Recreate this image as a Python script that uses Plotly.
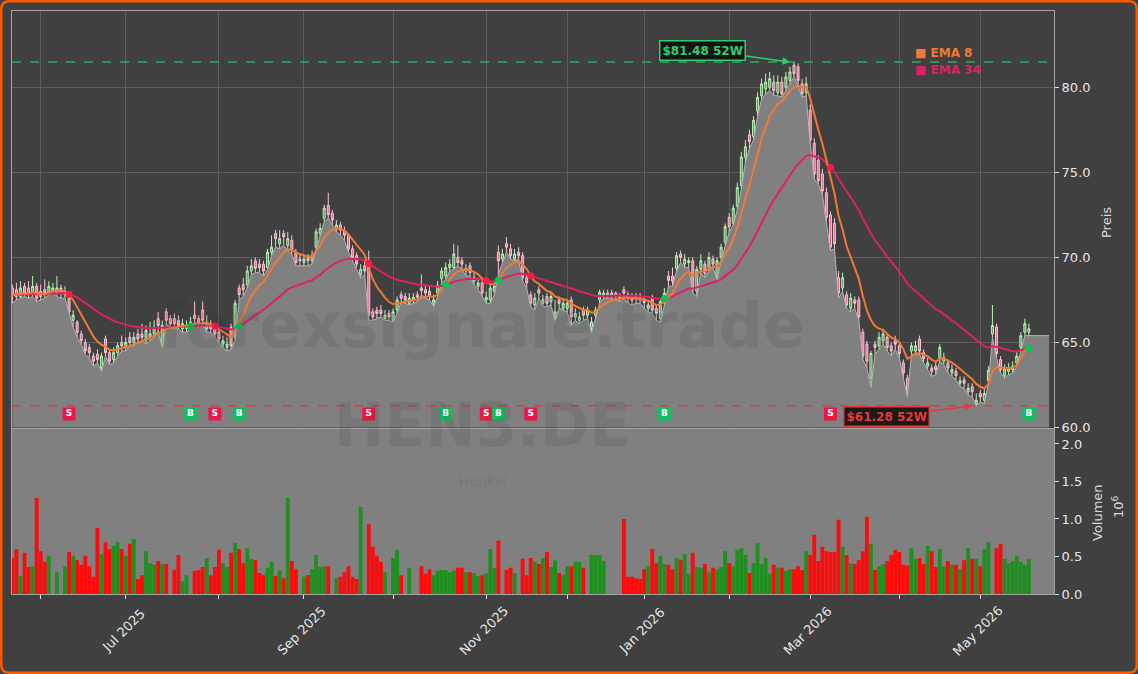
import pandas as pd
import plotly.graph_objects as go

# ---------------- data ----------------
holidays = ["2025-12-24", "2025-12-25", "2025-12-26", "2025-12-31",
            "2026-01-01", "2026-04-03", "2026-04-06", "2026-05-01"]
dates = [d for d in pd.bdate_range("2025-05-22", "2026-05-20")
         if d.strftime("%Y-%m-%d") not in holidays]

opens = [68.2, 68.1, 67.7, 68.3, 68.2, 67.8, 68.3, 68.0, 68.1, 67.9,
         68.0, 67.9, 68.2, 67.8, 67.6, 66.3, 66.2, 65.5, 65.0, 64.7,
         64.2, 64.3, 63.5, 65.2, 64.4, 64.0, 64.4, 65.0, 64.7, 65.3,
         65.0, 65.5, 65.5, 65.1, 65.3, 65.5, 66.4, 64.9, 66.8, 66.4,
         66.4, 66.3, 65.8, 65.8, 65.9, 66.6, 66.4, 66.9, 65.8, 66.0,
         65.9, 65.6, 64.9, 64.7, 65.9, 65.3, 68.2, 68.4, 68.4, 69.2,
         69.8, 69.6, 69.6, 69.4, 70.3, 71.4, 70.8, 71.4, 70.7, 71.0,
         70.3, 69.9, 69.7, 70.0, 69.8, 70.6, 71.4, 72.3, 73.05, 72.6,
         71.7, 71.9, 71.6, 71.3, 70.5, 70.1, 69.0, 69.5, 69.8, 66.8,
         66.9, 66.9, 66.4, 66.7, 66.3, 66.9, 67.8, 67.7, 67.3, 67.5,
         67.8, 68.2, 68.1, 68.0, 67.3, 67.9, 68.75, 68.9, 69.4, 69.4,
         70.0, 69.8, 69.2, 69.5, 68.6, 68.3, 68.5, 67.5, 67.5, 68.0,
         70.3, 69.9, 70.8, 70.5, 69.9, 70.3, 70.1, 68.8, 67.8, 67.2,
         68.1, 67.3, 67.7, 67.4, 66.5, 67.5, 67.0, 67.0, 67.5, 66.5,
         66.3, 66.9, 66.6, 65.9, 66.6, 67.5, 67.8, 67.9, 67.8, 67.9,
         67.6, 68.1, 67.8, 67.7, 67.7, 67.7, 67.5, 67.0, 67.65, 67.0,
         66.4, 67.4, 68.9, 68.9, 69.35, 70.2, 69.6, 69.7, 69.8, 68.0,
         69.3, 69.6, 69.4, 69.9, 68.9, 70.0, 70.9, 72.35, 72.0, 73.0,
         74.2, 75.9, 77.2, 77.1, 78.6, 79.5, 79.9, 80.0, 80.3, 79.7,
         80.3, 80.0, 80.4, 81.3, 81.2, 80.2, 79.7, 78.65, 76.7, 75.7,
         74.9, 73.8, 72.5, 72.0, 68.8, 68.2, 67.8, 67.0, 67.5, 67.5,
         65.6, 64.9, 62.9, 64.9, 64.8, 65.1, 65.3, 64.8, 65.1, 64.8,
         63.8, 62.9, 64.5, 64.5, 65.2, 64.4, 63.6, 63.5, 63.6, 64.05,
         63.9, 63.8, 63.2, 63.3, 62.6, 62.8, 62.1, 62.4, 61.4, 62.0,
         61.6, 62.75, 65.5, 65.9, 64.0, 63.05, 63.3, 63.4, 63.8, 64.7,
         65.6, 65.6]
highs = [68.4, 68.5, 68.6, 68.5, 68.6, 68.9, 68.5, 68.4, 68.7, 68.6,
         68.5, 68.9, 68.4, 68.3, 67.9, 66.9, 66.3, 65.7, 65.2, 64.9,
         64.4, 64.6, 64.4, 65.4, 64.6, 64.7, 65.0, 65.4, 65.3, 65.6,
         65.6, 65.8, 66.1, 66.0, 66.2, 66.3, 66.8, 66.3, 67.0, 66.6,
         66.7, 66.6, 66.4, 66.3, 66.5, 67.4, 66.6, 67.4, 66.6, 66.3,
         66.1, 65.8, 65.4, 65.3, 66.1, 67.5, 68.4, 68.8, 69.5, 69.9,
         70.0, 69.9, 69.8, 70.5, 71.3, 71.6, 71.6, 71.6, 71.5, 71.3,
         70.5, 70.2, 70.2, 70.2, 70.4, 71.7, 72.0, 73.1, 73.8, 72.8,
         72.2, 72.1, 71.8, 71.4, 70.7, 70.3, 69.6, 69.8, 70.4, 67.0,
         67.1, 67.2, 66.9, 66.9, 67.0, 67.7, 68.0, 67.9, 67.9, 67.9,
         68.0, 69.0, 68.4, 68.3, 67.8, 68.6, 69.4, 69.7, 69.9, 70.8,
         70.7, 70.0, 69.6, 69.7, 69.1, 68.8, 68.7, 68.0, 68.4, 68.6,
         70.7, 70.5, 71.2, 70.8, 70.5, 70.6, 70.3, 69.0, 68.0, 67.9,
         68.3, 67.8, 67.9, 67.9, 67.5, 67.7, 67.6, 67.5, 67.7, 67.0,
         66.8, 67.1, 67.1, 66.5, 67.1, 68.1, 68.1, 68.1, 68.1, 68.0,
         67.9, 68.3, 68.0, 67.9, 67.9, 67.9, 67.7, 67.5, 67.8, 67.2,
         67.5, 68.2, 69.2, 69.4, 70.3, 70.4, 70.2, 70.0, 70.0, 69.5,
         70.2, 69.8, 70.3, 70.1, 70.0, 70.8, 72.0, 72.6, 73.1, 74.4,
         76.2, 76.9, 77.5, 78.3, 79.7, 80.5, 80.8, 80.9, 80.7, 80.7,
         80.6, 80.9, 81.2, 81.48, 81.4, 80.5, 80.6, 79.0, 77.0, 76.0,
         75.2, 74.1, 72.7, 72.3, 69.2, 69.1, 68.0, 67.9, 67.7, 67.7,
         65.8, 65.1, 64.5, 65.1, 65.6, 65.8, 65.5, 65.0, 65.4, 65.0,
         64.0, 63.1, 65.0, 65.1, 65.4, 64.6, 64.1, 63.7, 63.8, 64.9,
         64.4, 64.0, 63.7, 63.5, 63.0, 63.0, 62.6, 62.6, 62.0, 62.2,
         62.3, 63.6, 67.2, 66.1, 64.2, 63.7, 63.8, 63.9, 64.5, 65.6,
         66.4, 66.1]
lows = [67.3, 67.5, 67.6, 67.7, 67.6, 67.7, 67.4, 67.5, 67.6, 67.8,
        67.9, 67.7, 67.6, 67.6, 66.7, 65.9, 65.3, 64.9, 64.3, 64.1,
        63.6, 63.8, 63.3, 64.2, 63.7, 63.8, 64.2, 64.5, 64.5, 64.8,
        64.8, 65.0, 65.1, 64.9, 65.1, 65.3, 65.7, 64.7, 66.1, 65.9,
        65.8, 65.8, 65.6, 65.6, 65.8, 66.1, 65.9, 66.1, 65.6, 65.6,
        65.3, 65.0, 64.7, 64.5, 64.6, 65.1, 67.5, 67.7, 68.2, 69.0,
        69.1, 69.1, 68.9, 69.3, 70.1, 70.6, 70.5, 70.7, 70.4, 70.2,
        69.5, 69.5, 69.5, 69.5, 69.6, 70.4, 71.2, 72.1, 72.3, 71.9,
        71.5, 71.3, 71.0, 70.3, 69.8, 69.4, 68.8, 69.0, 66.3, 66.3,
        66.4, 66.5, 66.3, 66.3, 66.2, 66.7, 67.4, 67.3, 67.2, 67.3,
        67.4, 67.8, 67.6, 67.5, 67.1, 67.7, 68.5, 68.7, 69.2, 69.3,
        69.5, 69.3, 68.9, 68.9, 68.4, 68.1, 67.7, 67.3, 67.3, 67.8,
        69.0, 69.7, 70.3, 69.9, 69.8, 69.9, 68.6, 68.2, 67.1, 66.9,
        67.6, 67.1, 67.1, 67.2, 66.3, 67.0, 66.9, 66.8, 66.0, 66.3,
        66.1, 66.3, 66.4, 65.6, 66.4, 67.3, 67.6, 67.6, 67.6, 67.5,
        67.4, 67.6, 67.3, 67.2, 67.3, 67.3, 67.0, 66.8, 66.7, 66.3,
        66.2, 67.2, 68.3, 68.3, 69.2, 69.7, 69.4, 69.4, 67.9, 67.7,
        69.1, 68.8, 69.2, 69.4, 68.7, 69.8, 70.7, 71.5, 71.9, 72.8,
        74.0, 75.6, 76.4, 76.9, 78.3, 79.3, 79.6, 79.8, 79.5, 79.5,
        79.4, 79.8, 80.2, 80.6, 80.1, 79.4, 79.5, 76.7, 74.6, 74.3,
        73.7, 72.1, 70.4, 70.5, 67.6, 68.0, 67.0, 66.8, 67.0, 66.3,
        64.0, 63.5, 62.35, 64.3, 64.6, 64.9, 64.5, 64.2, 64.6, 64.1,
        62.9, 61.8, 64.3, 64.3, 64.3, 63.8, 63.4, 63.0, 63.1, 63.9,
        63.7, 63.2, 63.0, 62.8, 62.4, 62.3, 61.9, 61.8, 61.28, 61.5,
        61.4, 62.6, 65.3, 64.1, 63.2, 62.9, 63.1, 63.2, 63.6, 64.5,
        65.4, 65.4]
closes = [67.8, 67.7, 68.2, 67.9, 67.8, 68.3, 67.6, 67.7, 67.9, 68.3,
          68.2, 68.2, 67.9, 68.0, 66.8, 66.6, 65.6, 65.1, 64.5, 64.4,
          63.9, 64.0, 64.2, 64.4, 63.9, 64.4, 64.8, 64.8, 65.0, 65.0,
          65.3, 65.2, 65.3, 65.7, 65.5, 65.9, 66.0, 66.0, 66.3, 66.1,
          66.1, 66.0, 66.1, 66.0, 66.2, 66.4, 66.1, 66.3, 66.1, 65.8,
          65.5, 65.2, 65.1, 64.9, 64.8, 67.3, 67.8, 68.1, 69.2, 69.5,
          69.35, 69.4, 69.2, 70.3, 70.6, 71.1, 71.1, 71.2, 71.1, 70.4,
          69.7, 69.8, 69.9, 69.8, 70.1, 71.5, 71.7, 72.9, 72.5, 72.2,
          71.9, 71.6, 71.3, 70.5, 70.0, 69.6, 69.3, 69.2, 66.6, 66.5,
          66.7, 66.7, 66.6, 66.5, 66.8, 67.5, 67.6, 67.5, 67.6, 67.65,
          67.65, 68.05, 67.9, 67.75, 67.5, 68.35, 69.2, 69.4, 69.6, 70.2,
          69.7, 69.6, 69.35, 69.1, 68.8, 68.5, 67.9, 67.65, 68.2, 68.3,
          69.8, 70.2, 70.6, 70.1, 70.2, 70.1, 68.8, 68.5, 67.3, 67.6,
          67.9, 67.5, 67.3, 67.7, 66.8, 67.3, 67.3, 67.3, 66.5, 66.7,
          66.5, 66.6, 66.9, 66.2, 66.9, 67.95, 67.9, 67.8, 67.9, 67.7,
          67.7, 67.9, 67.6, 67.5, 67.6, 67.5, 67.35, 67.2, 66.9, 66.7,
          67.4, 67.9, 68.65, 68.6, 70.1, 70.0, 69.9, 69.8, 68.1, 69.3,
          69.8, 69.05, 70.0, 69.6, 69.8, 70.6, 71.8, 71.8, 72.9, 74.1,
          75.9, 76.5, 76.8, 78.05, 79.4, 80.2, 80.3, 80.5, 79.8, 80.3,
          79.6, 80.6, 80.9, 80.8, 80.4, 79.6, 80.2, 76.9, 74.9, 74.5,
          73.9, 72.35, 70.6, 70.8, 67.9, 68.8, 67.2, 67.6, 67.3, 66.5,
          64.2, 63.9, 64.35, 64.7, 65.3, 65.5, 64.7, 64.5, 64.9, 64.35,
          63.2, 62.0, 64.8, 64.8, 64.5, 64.05, 63.8, 63.3, 63.4, 64.7,
          64.1, 63.5, 63.4, 63.05, 62.75, 62.6, 62.3, 62.1, 61.6, 61.8,
          62.0, 63.35, 66.0, 64.35, 63.4, 63.45, 63.5, 63.6, 64.2, 65.4,
          66.1, 65.8]
volume_mio = [0.48, 0.60, 0.24, 0.55, 0.36, 0.37, 1.28, 0.57, 0.43, 0.51,
              0.00, 0.29, 0.00, 0.37, 0.56, 0.51, 0.45, 0.39, 0.51, 0.37,
              0.23, 0.88, 0.53, 0.69, 0.60, 0.64, 0.69, 0.60, 0.51, 0.67,
              0.73, 0.20, 0.25, 0.57, 0.41, 0.39, 0.44, 0.40, 0.40, 0.00,
              0.32, 0.52, 0.17, 0.25, 0.00, 0.31, 0.32, 0.36, 0.48, 0.25,
              0.36, 0.59, 0.41, 0.36, 0.55, 0.68, 0.60, 0.41, 0.61, 0.47,
              0.45, 0.28, 0.25, 0.35, 0.43, 0.24, 0.31, 0.21, 1.28, 0.44,
              0.33, 0.00, 0.23, 0.25, 0.33, 0.52, 0.36, 0.37, 0.37, 0.00,
              0.21, 0.23, 0.29, 0.37, 0.23, 0.20, 1.16, 0.00, 0.93, 0.63,
              0.51, 0.43, 0.29, 0.00, 0.48, 0.59, 0.25, 0.00, 0.35, 0.00,
              0.00, 0.37, 0.27, 0.33, 0.25, 0.31, 0.32, 0.32, 0.29, 0.31,
              0.35, 0.35, 0.29, 0.29, 0.28, 0.24, 0.25, 0.28, 0.60, 0.35,
              0.71, 0.00, 0.32, 0.35, 0.28, 0.00, 0.47, 0.25, 0.48, 0.43,
              0.40, 0.48, 0.56, 0.36, 0.45, 0.28, 0.25, 0.37, 0.37, 0.43,
              0.43, 0.35, 0.00, 0.52, 0.52, 0.52, 0.44, 0.00, 0.00, 0.00,
              0.00, 1.00, 0.23, 0.23, 0.21, 0.20, 0.33, 0.37, 0.60, 0.41,
              0.51, 0.40, 0.39, 0.33, 0.48, 0.45, 0.53, 0.27, 0.55, 0.36,
              0.35, 0.40, 0.29, 0.35, 0.33, 0.36, 0.57, 0.41, 0.37, 0.59,
              0.61, 0.52, 0.28, 0.41, 0.68, 0.40, 0.48, 0.27, 0.39, 0.35,
              0.35, 0.31, 0.33, 0.33, 0.37, 0.32, 0.57, 0.52, 0.79, 0.44,
              0.63, 0.57, 0.56, 0.56, 0.99, 0.63, 0.52, 0.41, 0.40, 0.45,
              0.57, 1.03, 0.67, 0.32, 0.37, 0.40, 0.44, 0.52, 0.59, 0.56,
              0.39, 0.38, 0.61, 0.47, 0.48, 0.40, 0.64, 0.57, 0.36, 0.60,
              0.37, 0.44, 0.39, 0.39, 0.33, 0.45, 0.61, 0.47, 0.47, 0.37,
              0.60, 0.69, 0.00, 0.61, 0.67, 0.47, 0.41, 0.44, 0.51, 0.43,
              0.39, 0.47]

signal_idx = [14, 44, 50, 56, 88, 107, 117, 120, 128, 161, 202, 251]
signal_type = ["S", "B", "S", "B", "S", "B", "S", "B", "S", "B", "S", "B"]
high_52w = 81.48
low_52w = 61.28

N = len(closes)
assert len(dates) == N and len(opens) == N and len(highs) == N and len(lows) == N and len(volume_mio) == N

# ---------------- derived ----------------
idx = list(range(N))
cs = pd.Series(closes)
ema8 = cs.ewm(span=8, adjust=False).mean().tolist()
ema34 = cs.ewm(span=34, adjust=False).mean().tolist()

tick_pos, tick_txt = [], []
for i in range(1, N):
    if dates[i].month != dates[i - 1].month:
        tick_pos.append(i)
        tick_txt.append(dates[i].strftime("%b %Y") if dates[i].month % 2 == 1 else "")

hi_i = max(idx, key=lambda i: highs[i])
lo_i = min(idx, key=lambda i: lows[i])

FONT = "DejaVu Sans"
BG = "#404040"
GREY = "#808080"
C_EMA8 = "#f07a35"
C_EMA34 = "#de2064"
C_UP_VOL = "#1f8f1f"
C_DN_VOL = "#ff0a0a"
C_GREEN = "#2ecc71"
C_RED = "#e8383d"
ORANGE = "#ff5a00"
TXT = "#e6e6e6"

fig = go.Figure()

# grey area under the prices
fig.add_trace(go.Scatter(
    x=idx + [idx[-1] + 5], y=lows + [lows[-1]], mode="lines",
    line=dict(color="#b4b4b4", width=1), fill="tozeroy", fillcolor=GREY,
    xaxis="x", yaxis="y", hoverinfo="skip", showlegend=False))

# candles
fig.add_trace(go.Candlestick(
    x=idx, open=opens, high=highs, low=lows, close=closes,
    increasing=dict(line=dict(color="#b9f2b9", width=1), fillcolor="rgba(110,200,110,0.6)"),
    decreasing=dict(line=dict(color="#f6c6d2", width=1), fillcolor="#e8688a"),
    xaxis="x", yaxis="y", showlegend=False))

# EMAs
fig.add_trace(go.Scatter(x=idx, y=ema34, mode="lines", line=dict(color=C_EMA34, width=2),
                         xaxis="x", yaxis="y", showlegend=False))
fig.add_trace(go.Scatter(x=idx, y=ema8, mode="lines", line=dict(color=C_EMA8, width=2),
                         xaxis="x", yaxis="y", showlegend=False))

# 52W lines
fig.add_hline(y=high_52w, line=dict(color="#2eab5f", width=1.6, dash="dash"), xref="x", yref="y")
fig.add_hline(y=low_52w, line=dict(color="#e03c3c", width=1.6, dash="dash"), xref="x", yref="y")

# crossover dots on the EMA
sig_col = ["#ff1a40" if t == "S" else "#00c853" for t in signal_type]
fig.add_trace(go.Scatter(
    x=signal_idx, y=[ema34[i] for i in signal_idx], mode="markers",
    marker=dict(color=sig_col, size=7), xaxis="x", yaxis="y", showlegend=False))

# B / S badges near the bottom of the price panel
badge_y = 60.8
fig.add_trace(go.Scatter(
    x=signal_idx, y=[badge_y] * len(signal_idx), mode="markers+text",
    marker=dict(symbol="square", size=13,
                color=["#e8194a" if t == "S" else "#10c060" for t in signal_type]),
    text=signal_type, textposition="middle center",
    textfont=dict(family=FONT, size=9, color="white", weight="bold"),
    xaxis="x", yaxis="y", showlegend=False))

# volume
vol_col = [C_UP_VOL if c >= o else C_DN_VOL for o, c in zip(opens, closes)]
fig.add_trace(go.Bar(x=idx, y=volume_mio, marker=dict(color=vol_col, line=dict(width=0)),
                     xaxis="x2", yaxis="y2", showlegend=False))

# ---------------- layout ----------------
W, H = 1138, 674
ML, MR, MT, MB = 12, 84, 11, 80
PW, PH = W - ML - MR, H - MT - MB


def pxx(px):
    return (px - ML) / PW


def pxy(py):
    return (H - MB - py) / PH


price_dom = [pxy(427.5), 1.0]
vol_dom = [0.0, pxy(428.5)]
xr = [-0.09, 257.2]

axis_font = dict(family=FONT, size=13, color=TXT)
fig.update_layout(
    width=W, height=H,
    margin=dict(l=ML, r=MR, t=MT, b=MB),
    paper_bgcolor=BG, plot_bgcolor=BG,
    font=dict(family=FONT, color=TXT),
    showlegend=False, bargap=0.04,
    xaxis=dict(domain=[0, 1], anchor="y", range=xr, tickvals=tick_pos,
               showticklabels=False, showgrid=True, gridcolor="#5d5d5d", gridwidth=1,
               showline=True, mirror=True, linecolor="#a5a5a5", linewidth=1,
               zeroline=False, rangeslider=dict(visible=False)),
    yaxis=dict(domain=price_dom, anchor="x", side="right", range=[60, 84.48],
               tickvals=[60, 65, 70, 75, 80], tickformat=".1f", tickfont=axis_font,
               ticks="outside", ticklen=4, tickcolor="#dddddd",
               showgrid=True, gridcolor="#5d5d5d", zeroline=False,
               showline=True, mirror=True, linecolor="#a5a5a5", linewidth=1),
    xaxis2=dict(domain=[0, 1], anchor="y2", range=xr, matches="x",
                tickvals=tick_pos, showticklabels=False,
                ticks="outside", ticklen=4, tickcolor="#dddddd",
                showgrid=False, zeroline=False,
                showline=True, mirror=True, linecolor="#a5a5a5", linewidth=1),
    yaxis2=dict(domain=vol_dom, anchor="x2", side="right", range=[0, 2.206],
                tickvals=[0, 0.5, 1.0, 1.5, 2.0], tickformat=".1f", tickfont=axis_font,
                ticks="outside", ticklen=4, tickcolor="#dddddd",
                showgrid=False, zeroline=False,
                showline=True, mirror=True, linecolor="#a5a5a5", linewidth=1),
)

# volume panel background
fig.add_shape(type="rect", xref="x2 domain", yref="y2 domain", x0=0, x1=1, y0=0, y1=1,
              fillcolor=GREY, line=dict(width=0), layer="below")

# x tick labels, rotated 45 deg and centred under their ticks
for pos, txt in zip(tick_pos, tick_txt):
    if txt:
        fig.add_annotation(x=pos - 0.5, xref="x2", y=pxy(631), yref="paper", text=txt,
                           textangle=-45, showarrow=False, xanchor="center", yanchor="middle",
                           font=dict(family=FONT, size=13, color=TXT))

# axis titles
title_font = dict(family=FONT, size=13, color="#d8d8d8")
fig.add_annotation(xref="paper", yref="paper", x=pxx(1106), y=pxy(223), text="Preis",
                   textangle=-90, showarrow=False, xanchor="center", yanchor="middle", font=title_font)
fig.add_annotation(xref="paper", yref="paper", x=pxx(1097), y=pxy(513), text="Volumen",
                   textangle=-90, showarrow=False, xanchor="center", yanchor="middle", font=title_font)
fig.add_annotation(xref="paper", yref="paper", x=pxx(1118), y=pxy(507), text="10<sup>6</sup>",
                   textangle=-90, showarrow=False, xanchor="center", yanchor="middle", font=title_font)

# watermarks
wm = "rgba(25,25,25,0.10)"
fig.add_annotation(xref="paper", yref="paper", x=pxx(482), y=pxy(325), text="<b>forexsignale.trade</b>",
                   showarrow=False, font=dict(family=FONT, size=62, color=wm))
fig.add_annotation(xref="paper", yref="paper", x=pxx(482), y=pxy(462), text="<b>HEN3.DE</b>",
                   showarrow=False, font=dict(family=FONT, size=60, color=wm))
fig.add_annotation(xref="paper", yref="paper", x=pxx(483), y=pxy(491), text="Henkel",
                   showarrow=False, font=dict(family=FONT, size=14, color=wm))

# legend
fig.add_annotation(xref="paper", yref="paper", x=pxx(913), y=pxy(53), xanchor="left", yanchor="middle",
                   text="<b>■ EMA 8</b>", showarrow=False, font=dict(family=FONT, size=12, color=C_EMA8))
fig.add_annotation(xref="paper", yref="paper", x=pxx(913), y=pxy(70), xanchor="left", yanchor="middle",
                   text="<b>■ EMA 34</b>", showarrow=False, font=dict(family=FONT, size=12, color=C_EMA34))

# 52W labels
fig.add_annotation(x=hi_i - 1, y=high_52w, xref="x", yref="y", ax=-87, ay=-12,
                   text=f"<b>${high_52w:.2f} 52W</b>", showarrow=True, arrowhead=2, arrowsize=1,
                   arrowwidth=1.5, arrowcolor=C_GREEN, bgcolor="#141414", bordercolor=C_GREEN,
                   borderwidth=1.5, borderpad=2, font=dict(family=FONT, size=12, color=C_GREEN))
fig.add_annotation(x=lo_i - 1, y=low_52w, xref="x", yref="y", ax=-86, ay=11,
                   text=f"<b>${low_52w:.2f} 52W</b>", showarrow=True, arrowhead=2, arrowsize=1,
                   arrowwidth=1.5, arrowcolor=C_RED, bgcolor="#1a1a1a", bordercolor=C_RED,
                   borderwidth=1.5, borderpad=2, font=dict(family=FONT, size=12, color=C_RED))

# orange rounded frame around the whole figure
x0, x1, y0, y1, r = 1.25, W - 1.25, 1.25, H - 1.25, 8
pts = [("M", x0 + r, y0), ("L", x1 - r, y0), ("Q", x1, y0, x1, y0 + r), ("L", x1, y1 - r),
       ("Q", x1, y1, x1 - r, y1), ("L", x0 + r, y1), ("Q", x0, y1, x0, y1 - r), ("L", x0, y0 + r),
       ("Q", x0, y0, x0 + r, y0)]
path = ""
for p in pts:
    cmd, coords = p[0], p[1:]
    segs = []
    for k in range(0, len(coords), 2):
        segs.append(f"{pxx(coords[k]):.5f},{pxy(coords[k + 1]):.5f}")
    path += cmd + " " + " ".join(segs) + " "
path += "Z"
fig.add_shape(type="path", xref="paper", yref="paper", path=path,
              line=dict(color=ORANGE, width=2.5), fillcolor="rgba(0,0,0,0)", layer="above")

fig.write_html("out.html")
